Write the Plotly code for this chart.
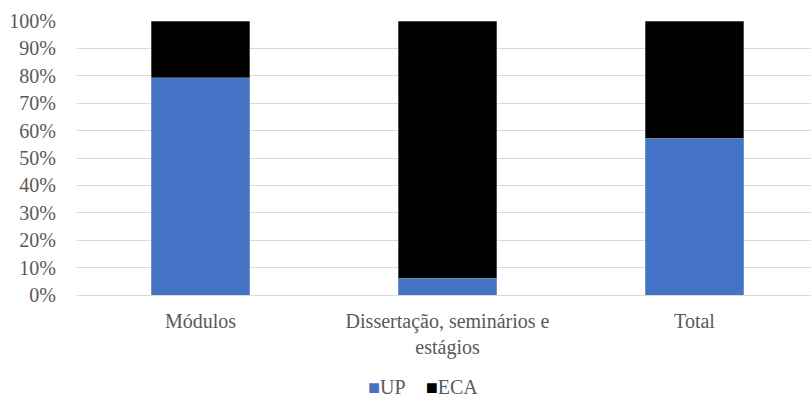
import plotly.graph_objects as go

categories = ["Módulos", "Dissertação, seminários e<br>estágios", "Total"]
up_values = [0.792, 0.062, 0.572]
eca_values = [0.208, 0.938, 0.428]
y_ticks = [i / 10 for i in range(11)]
y_tick_labels = [f"{i * 10}%" for i in range(11)]
series_names = ["UP", "ECA"]
series_colors = ["#4472C4", "#000000"]

FONT = "Liberation Serif"
TXT = "#595959"
W, H = 811, 397
left, right, top, bottom = 77, 0, 21, 102


def serif(s):
    return "<br>".join(f"<span style=\"font-family:'Liberation Serif', 'Times New Roman', serif\">{p}</span>"
                       for p in s.split("<br>"))


fig = go.Figure()
fig.add_trace(go.Bar(x=categories, y=up_values, name=series_names[0],
                     marker=dict(color=series_colors[0], line=dict(color="#8EA9DB", width=0.6))))
fig.add_trace(go.Bar(x=categories, y=eca_values, name=series_names[1],
                     marker=dict(color=series_colors[1], line=dict(color="#7F7F7F", width=0.6))))

legend_text = (f'<span style="color:{series_colors[0]}">■</span>{serif(series_names[0])}'
               f'&nbsp;&nbsp;&nbsp;&nbsp;<span style="color:{series_colors[1]}">■</span>{serif(series_names[1])}')

fig.update_layout(
    barmode="stack",
    bargap=0.6,
    width=W, height=H,
    margin=dict(l=left, r=right, t=top, b=bottom),
    plot_bgcolor="white",
    font=dict(family=FONT, size=20, color=TXT),
    showlegend=False,
    annotations=[dict(text=legend_text, xref="paper", yref="paper",
                      x=(423 - left) / (W - left), y=-(387 - 295) / 274,
                      xanchor="center", yanchor="middle", showarrow=False,
                      font=dict(family=FONT, size=20, color=TXT))],
    xaxis=dict(type="category", range=[-0.5, 2.5 - 7 / 247], showgrid=False,
               showline=False, zeroline=False, ticks="outside", ticklen=8,
               tickcolor="rgba(0,0,0,0)",
               tickvals=categories, ticktext=[serif(c) for c in categories],
               tickfont=dict(family=FONT, size=20, color=TXT)),
    yaxis=dict(range=[0, 1], tickvals=y_ticks, ticktext=[serif(t) for t in y_tick_labels],
               showgrid=True, gridcolor="#D9D9D9", gridwidth=1,
               zeroline=True, zerolinecolor="#D9D9D9", zerolinewidth=1,
               showline=False, ticks="outside", ticklen=16,
               tickcolor="rgba(0,0,0,0)",
               tickfont=dict(family=FONT, size=20, color=TXT)),
)

fig.write_html("out.html")
